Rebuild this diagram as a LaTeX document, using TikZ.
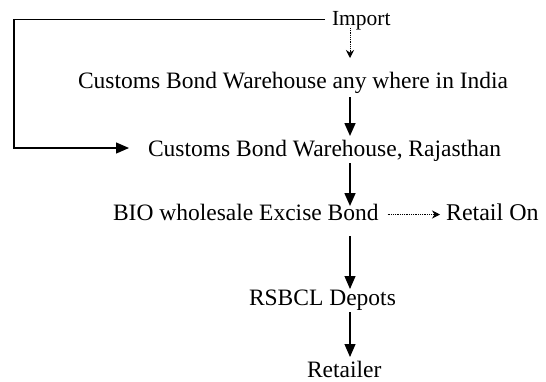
\documentclass[tikz,border=0pt]{standalone}
\usepackage{fontspec}
\setmainfont{Liberation Serif}
\usetikzlibrary{arrows.meta}
\begin{document}
\begin{tikzpicture}[x=1pt,y=-1pt,
  lbl/.style={anchor=base west,inner sep=0pt,outer sep=0pt,text height=16pt,text depth=5pt,font=\fontsize{23.5}{28}\selectfont},
  thickarr/.style={line width=1.6pt,-{Triangle[width=11pt,length=13pt]}},
  thinarr/.style={line width=1.1pt,-{Triangle[width=11pt,length=13pt]}},
  dotarr/.style={line width=0.8pt,densely dotted,-{Stealth[width=8pt,length=8pt]}}]
\useasboundingbox (0,0) rectangle (546,381);
\node[lbl,font=\fontsize{21.5}{26}\selectfont] (imp) at (332,25) {Import};
\node[lbl] (ind) at (78,88) {Customs Bond Warehouse any where in India};
\node[lbl] (raj) at (148,156) {Customs Bond Warehouse, Rajasthan};
\node[lbl] (bio) at (113,220) {BIO wholesale Excise Bond};
\node[lbl,font=\fontsize{24}{29}\selectfont] (ret) at (446,220) {Retail On};
\node[lbl] (dep) at (249,305) {RSBCL Depots};
\node[lbl] (rtl) at (307,377) {Retailer};
\coordinate (ax) at (350,0);
\coordinate (lx) at (14,0);
\draw[dotarr,shorten <=-2pt,shorten >=14pt] (imp.south -| ax) -- (ind.north -| ax);
\draw[thickarr,shorten <=4pt,shorten >=4pt] (ind.south -| ax) -- (raj.north -| ax);
\draw[thickarr,shorten <=2pt,shorten >=-2pt] (raj.south -| ax) -- (bio.north -| ax);
\draw[thinarr,shorten <=11pt] (bio.south -| ax) -- (dep.north -| ax);
\draw[thinarr,shorten <=2pt,shorten >=4pt] (dep.south -| ax) -- (rtl.north -| ax);
\draw[dotarr,shorten <=9pt,shorten >=6pt] (bio.east) -- (bio.east -| ret.west);
\draw[line width=1.3pt,-{Triangle[width=11pt,length=13pt]},shorten <=7pt,shorten >=19pt]
  (imp.west) -- (imp.west -| lx) -- ([yshift=2.5pt]raj.west -| lx) -- ([yshift=2.5pt]raj.west);
\end{tikzpicture}
\end{document}
